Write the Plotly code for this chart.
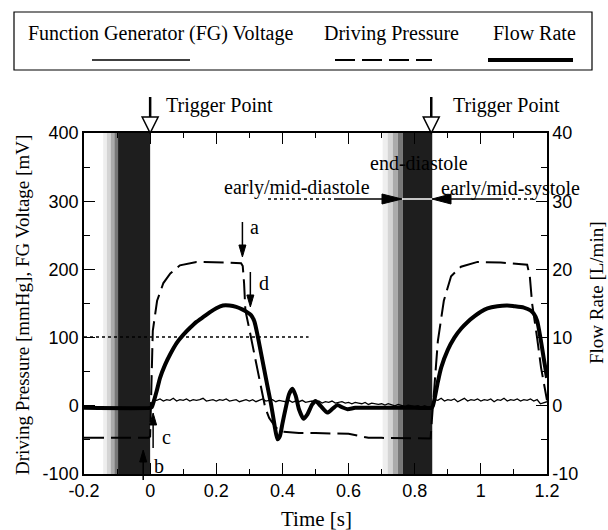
import plotly.graph_objects as go

# ---------------- data ----------------
pressure_t = [-0.2, -0.005, 0.0, 0.004, 0.008, 0.021, 0.04, 0.061, 0.09, 0.14, 0.2, 0.23, 0.275,
              0.28, 0.284, 0.288, 0.3, 0.32, 0.34, 0.348, 0.36, 0.38, 0.40, 0.45, 0.5, 0.55, 0.6,
              0.63, 0.66, 0.7, 0.8, 0.848, 0.852, 0.858, 0.87, 0.888, 0.91, 0.94, 0.99, 1.06,
              1.1, 1.14, 1.148, 1.155, 1.17, 1.182, 1.2]
pressure_v = [-47, -47, -45, 60, 110, 154, 180, 194, 206, 211, 211, 210, 209,
              205, 180, 140, 112, 64, 16, -3, -18, -32, -38, -40, -40, -40, -41,
              -44, -47, -47, -48, -48, -20, 22, 95, 154, 190, 204, 211, 210,
              209, 207, 190, 150, 100, 56, 8]

flow_t = [-0.2, 0.0, 0.005, 0.01, 0.02, 0.03, 0.045, 0.061, 0.08, 0.1, 0.12, 0.14, 0.16, 0.18,
          0.2, 0.22, 0.24, 0.26, 0.28, 0.294, 0.305, 0.315, 0.325, 0.335, 0.345, 0.355, 0.365,
          0.372, 0.378, 0.385, 0.392, 0.40, 0.41, 0.42, 0.43, 0.44, 0.45, 0.464, 0.475, 0.49,
          0.50, 0.515, 0.536, 0.55, 0.566, 0.58, 0.597, 0.62, 0.7, 0.8, 0.85, 0.855, 0.86,
          0.87, 0.88, 0.9, 0.92, 0.94, 0.96, 0.98, 1.0, 1.02, 1.05, 1.08, 1.1, 1.13, 1.15,
          1.16, 1.17, 1.18, 1.19, 1.2]
flow_v = [-0.3, -0.3, -0.2, 0.5, 2.2, 4.1, 6.0, 7.6, 9.2, 10.4, 11.4, 12.3, 13.0, 13.7,
          14.3, 14.7, 14.7, 14.5, 14.1, 13.7, 13.3, 12.4, 10.3, 7.8, 5.3, 2.8, 0.4,
          -1.6, -3.4, -4.9, -4.5, -2.6, -0.3, 1.7, 2.5, 1.5, -0.5, -1.9, -1.3, 0.2,
          0.7, 0.0, -1.0, -0.5, 0.1, -0.2, -0.5, -0.3, -0.3, -0.3, -0.3, 0.0, 1.0,
          3.5, 5.6, 8.2, 10.0, 11.3, 12.3, 13.1, 13.8, 14.3, 14.6, 14.7, 14.6, 14.4, 14.0,
          13.5, 12.5, 10.0, 7.0, 4.1]

fg_t = [-0.2, -0.1, 0.0, 0.01, 0.02, 0.03, 0.04, 0.05, 0.06, 0.07, 0.08, 0.09,
        0.10, 0.11, 0.12, 0.13, 0.14, 0.15, 0.16, 0.17, 0.18, 0.19,
        0.20, 0.21, 0.22, 0.23, 0.24, 0.25, 0.26, 0.27, 0.28, 0.29,
        0.30, 0.31, 0.32, 0.33, 0.34, 0.35, 0.36, 0.37, 0.38, 0.39,
        0.40, 0.41, 0.42, 0.43, 0.44, 0.45, 0.46, 0.47, 0.48, 0.49,
        0.50, 0.51, 0.52, 0.53, 0.54, 0.55, 0.56, 0.57, 0.58, 0.59,
        0.60, 0.61, 0.62, 0.63, 0.64, 0.65, 0.66, 0.67, 0.68, 0.69,
        0.70, 0.71, 0.72, 0.73, 0.74, 0.75, 0.76, 0.77, 0.78, 0.79,
        0.80, 0.81, 0.82, 0.83, 0.84, 0.85, 0.86, 0.87, 0.88, 0.89,
        0.90, 0.91, 0.92, 0.93, 0.94, 0.95, 0.96, 0.97, 0.98, 0.99,
        1.00, 1.01, 1.02, 1.03, 1.04, 1.05, 1.06, 1.07, 1.08, 1.09,
        1.10, 1.11, 1.12, 1.13, 1.14, 1.15, 1.16, 1.17, 1.18, 1.19, 1.20]
fg_v = [-3, -3, -3, 9, 8, 10, 7, 9, 8, 11, 7, 9,
        8, 10, 7, 9, 8, 9, 11, 7, 8, 9,
        7, 9, 8, 10, 7, 8, 9, 6, 8, 9,
        7, 9, 6, 8, 10, 7, 8, 9, 6, 8,
        7, 6, 8, 5, 7, 6, 8, 5, 6, 7,
        5, 7, 4, 6, 5, 7, 4, 5, 6, 4,
        5, 3, 5, 4, 3, 5, 2, 4, 3, 2,
        3, 1, 3, 2, 0, 2, 1, -1, 1, 0,
        -1, 0, -2, 0, -2, -2, 9, 8, 11, 7,
        9, 8, 10, 6, 9, 11, 7, 9, 8, 10,
        7, 9, 8, 10, 6, 9, 8, 11, 7, 9,
        8, 10, 7, 9, 8, 10, 7, 9, 3, 4, 6]

x_ticks = [-0.2, 0, 0.2, 0.4, 0.6, 0.8, 1.0, 1.2]
x_ticktext = ["-0.2", "0", "0.2", "0.4", "0.6", "0.8", "1", "1.2"]
x_minor = [-0.1, 0.1, 0.3, 0.5, 0.7, 0.9, 1.1]
y_ticks = [-100, 0, 100, 200, 300, 400]
y_ticktext = ["-100", "0", "100", "200", "300", "400"]
y_minor = [-50, 50, 150, 250, 350]
y2_ticks = [-10, 0, 10, 20, 30, 40]
y2_ticktext = ["-10", "0", "10", "20", "30", "40"]
y2_minor = [-5, 5, 15, 25, 35]

legend_labels = ["Function Generator (FG) Voltage", "Driving Pressure", "Flow Rate"]

# shaded bands (time)
band1 = (-0.142, -0.097, 0.0)
band2 = (0.703, 0.764, 0.853)
trigger_times = [0.0, 0.85]

# ---------------- layout helpers (pixel -> paper) ----------------
FW, FH = 608, 530
L, R, T, B = 84, 547, 133, 474
W, H = R - L, B - T


def PX(X):
    return (X - L) / W


def PY(Y):
    return (B - Y) / H


def TX(t):
    return L + (t + 0.2) / 1.4 * W


SERIF = "Liberation Serif"
SANS = "Liberation Sans"

fig = go.Figure()
fig.add_trace(go.Scatter(x=fg_t, y=fg_v, mode="lines", line=dict(color="black", width=1.3),
                         name=legend_labels[0], showlegend=False, hoverinfo="skip"))
fig.add_trace(go.Scatter(x=pressure_t, y=pressure_v, mode="lines",
                         line=dict(color="black", width=2, dash="20px,7px"),
                         name=legend_labels[1], showlegend=False, hoverinfo="skip"))
fig.add_trace(go.Scatter(x=flow_t, y=flow_v, mode="lines", yaxis="y2",
                         line=dict(color="black", width=4, shape="spline", smoothing=0.6),
                         name=legend_labels[2], showlegend=False, hoverinfo="skip"))

shapes = []
grays = ["#eeeeee", "#d4d4d4", "#ababab", "#777777"]
for b in (band1, band2):
    s0, s1, e = b
    step = (s1 - s0) / len(grays)
    for i, g in enumerate(grays):
        shapes.append(dict(type="rect", xref="x", yref="paper", x0=s0 + i * step, x1=s0 + (i + 1) * step,
                           y0=0, y1=1, fillcolor=g, line=dict(width=0), layer="below"))
    shapes.append(dict(type="rect", xref="x", yref="paper", x0=s1, x1=e, y0=0, y1=1,
                       fillcolor="#1e1e1e", line=dict(width=0), layer="below"))


def seg(X0, Y0, X1, Y1, width=1.5, dash="solid", color="black"):
    shapes.append(dict(type="line", xref="paper", yref="paper", x0=PX(X0), y0=PY(Y0),
                       x1=PX(X1), y1=PY(Y1), line=dict(color=color, width=width, dash=dash)))


def tri(pts, fill="black", lw=1.0):
    p = "M " + " L ".join(f"{PX(a):.5f},{PY(b):.5f}" for a, b in pts) + " Z"
    shapes.append(dict(type="path", xref="paper", yref="paper", path=p, fillcolor=fill,
                       line=dict(color="black", width=lw)))


for t in trigger_times:
    X = TX(t)
    seg(X, 97, X, 118, width=2.5)
    tri([(X - 8, 117), (X + 8, 117), (X, 133)], fill="white", lw=1.5)

for t, y0, y1 in [(0.279, 222, 257), (0.303, 272, 307)]:
    X = TX(t)
    seg(X, y0, X, y1 - 8, width=1.5)
    tri([(X - 3.5, y1 - 12), (X + 3.5, y1 - 12), (X, y1)])
for t, y0, y1 in [(0.009, 448, 413), (-0.021, 480, 450)]:
    X = TX(t)
    seg(X, y0, X, y1 + 8, width=1.5)
    tri([(X - 3.5, y1 + 12), (X + 3.5, y1 + 12), (X, y1)])

seg(TX(-0.2), 337, TX(0.479), 337, width=1.5, dash="dot")
YA = 199
seg(268, YA, 337, YA, width=1.5, dash="dot")
seg(337, YA, 384, YA, width=1.5)
tri([(382, YA - 5), (382, YA + 5), (402, YA)])
seg(402, YA, 432, YA, width=1.5, color="white")
tri([(451, YA - 5), (451, YA + 5), (432, YA)])
seg(449, YA, 500, YA, width=1.5)
seg(500, YA, 533, YA, width=1.5, dash="dot")

# legend box
shapes.append(dict(type="rect", xref="paper", yref="paper", x0=PX(14), x1=PX(592), y0=PY(70), y1=PY(12),
                   line=dict(color="black", width=1.2), fillcolor="rgba(0,0,0,0)"))
seg(92, 60, 190, 60, width=1.3)
seg(335, 60, 432, 60, width=2, dash="20px,7px")
seg(488, 60, 573, 60, width=4)

ann = []


def text(s, X, Y, xanchor="center", size=20, font=SERIF, angle=0):
    ann.append(dict(text=s, x=PX(X), y=PY(Y), xref="paper", yref="paper", showarrow=False,
                    xanchor=xanchor, yanchor="middle", textangle=angle,
                    font=dict(family=font, size=size, color="black")))


text(legend_labels[0], 160, 33)
text(legend_labels[1], 391, 33)
text(legend_labels[2], 534, 33)
text("Trigger Point", 164, 105, xanchor="left")
text("Trigger Point", 451, 105, xanchor="left")
text("a", 254, 227)
text("d", 264, 283)
text("c", 166, 437)
text("b", 159, 466)
text("end-diastole", 419, 163)
text("early/mid-diastole", 372, 187, xanchor="right")
text("early/mid-systole", 439, 188, xanchor="left")
text("Time [s]", 316, 519, size=21)
text("Driving Pressure [mmHg], FG Voltage [mV]", 22, 305, size=19, angle=-90)
text("Flow Rate [L/min]", 596, 293, size=19, angle=-90)

axis_common = dict(showline=True, linecolor="black", linewidth=1.5, ticks="inside", ticklen=11,
                   tickwidth=1.2, tickcolor="black", showgrid=False, zeroline=False,
                   tickfont=dict(family=SANS, size=18, color="black"))

fig.update_layout(
    width=FW, height=FH,
    margin=dict(l=L, r=FW - R, t=T, b=FH - B),
    paper_bgcolor="white", plot_bgcolor="white",
    showlegend=False,
    xaxis=dict(range=[-0.2, 1.2], tickmode="array", tickvals=x_ticks, ticktext=x_ticktext,
               mirror="ticks",
               minor=dict(tickmode="array", tickvals=x_minor, ticks="inside", ticklen=5,
                          tickcolor="black", tickwidth=1.2), **axis_common),
    yaxis=dict(range=[-100, 400], tickmode="array", tickvals=y_ticks, ticktext=y_ticktext,
               minor=dict(tickmode="array", tickvals=y_minor, ticks="inside", ticklen=6,
                          tickcolor="black", tickwidth=1.2), **axis_common),
    yaxis2=dict(range=[-10, 40], overlaying="y", side="right", tickmode="array",
                tickvals=y2_ticks, ticktext=y2_ticktext,
                minor=dict(tickmode="array", tickvals=y2_minor, ticks="inside", ticklen=6,
                           tickcolor="black", tickwidth=1.2), **axis_common),
    shapes=shapes,
    annotations=ann,
)

fig.write_html("out.html", config={"displayModeBar": False},
               post_script="document.body.style.margin='0';document.body.style.overflow='hidden';")
